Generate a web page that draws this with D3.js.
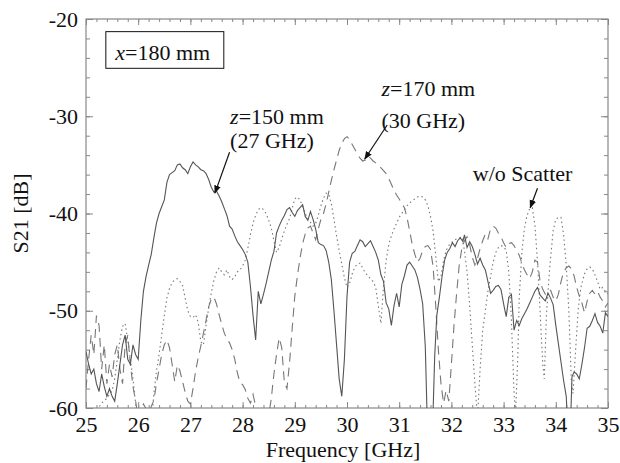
<!DOCTYPE html>
<html lang="en">
<head>
<meta charset="UTF-8">
<title>S21 vs Frequency</title>
<script src="https://d3js.org/d3.v7.min.js"></script>
<style>
  body { margin: 0; background: #fff; }
  .axis path { display: none; }
  .axis line { stroke: #888; }
</style>
</head>
<body>
<div id="chart"></div>
<script>
// x ticks (GHz) and y ticks (dB)
const xTicks = [25, 26, 27, 28, 29, 30, 31, 32, 33, 34, 35];
const yTicks = [-60, -50, -40, -30, -20];

// z=150 mm (27 GHz) - solid
const z150 = [
  [25.00,-54.2],[25.05,-55.5],[25.10,-56.5],[25.15,-56.0],[25.20,-57.5],[25.25,-58.3],[25.30,-56.5],
  [25.35,-57.8],[25.40,-58.8],[25.45,-58.0],[25.50,-58.8],[25.55,-59.3],[25.60,-57.5],[25.65,-55.5],
  [25.70,-53.5],[25.75,-52.5],[25.80,-55.0],[25.85,-55.5],[25.90,-53.5],[25.95,-54.5],[26.00,-55.0],
  [26.05,-51.0],[26.10,-48.0],[26.15,-46.5],[26.20,-45.3],[26.25,-44.2],[26.30,-42.5],[26.35,-41.0],
  [26.40,-40.0],[26.45,-39.3],[26.50,-38.6],[26.55,-36.8],[26.60,-36.0],[26.65,-35.8],[26.70,-35.6],
  [26.75,-35.0],[26.80,-34.9],[26.85,-35.3],[26.90,-35.5],[26.95,-35.9],[27.00,-35.2],[27.05,-34.7],
  [27.10,-35.0],[27.15,-35.2],[27.20,-35.5],[27.25,-35.6],[27.30,-35.9],[27.35,-36.5],[27.40,-37.3],
  [27.45,-37.8],[27.50,-37.7],[27.55,-38.2],[27.60,-38.8],[27.65,-39.5],[27.70,-40.2],[27.75,-41.3],
  [27.80,-41.6],[27.85,-42.3],[27.90,-42.9],[27.95,-43.3],[28.00,-43.7],[28.05,-44.2],[28.10,-45.0],
  [28.15,-47.5],[28.20,-50.5],[28.25,-53.0],[28.30,-48.0],[28.35,-49.3],[28.40,-48.3],[28.45,-47.2],
  [28.50,-46.0],[28.55,-44.8],[28.60,-43.9],[28.65,-42.0],[28.70,-41.3],[28.75,-40.7],[28.80,-40.2],
  [28.85,-39.6],[28.90,-39.4],[28.95,-39.9],[29.00,-40.3],[29.05,-39.7],[29.10,-39.4],[29.15,-39.1],
  [29.20,-40.3],[29.25,-40.7],[29.30,-39.8],[29.35,-40.6],[29.40,-41.6],[29.45,-43.0],[29.50,-43.2],
  [29.55,-43.3],[29.60,-43.8],[29.65,-45.0],[29.70,-46.8],[29.75,-50.0],[29.80,-53.5],[29.85,-57.0],
  [29.90,-58.8],[29.95,-55.0],[30.00,-48.5],[30.05,-45.0],[30.10,-44.1],[30.15,-43.9],[30.20,-43.3],
  [30.25,-42.7],[30.30,-42.9],[30.35,-43.4],[30.40,-43.1],[30.45,-42.8],[30.50,-43.4],[30.55,-44.0],
  [30.60,-44.8],[30.65,-46.3],[30.70,-47.0],[30.75,-49.2],[30.80,-49.8],[30.85,-51.5],[30.90,-49.5],
  [30.95,-48.2],[31.00,-49.6],[31.05,-47.3],[31.10,-46.4],[31.15,-45.3],[31.20,-45.0],[31.25,-45.4],
  [31.30,-45.8],[31.35,-46.6],[31.40,-47.8],[31.45,-49.3],[31.50,-53.7],[31.54,-62.0],[31.64,-62.0],
  [31.68,-54.7],[31.72,-50.5],[31.77,-48.6],[31.82,-46.5],[31.87,-44.8],[31.92,-44.0],[31.97,-43.6],
  [32.02,-43.0],[32.07,-43.4],[32.12,-42.8],[32.17,-42.5],[32.22,-42.9],[32.25,-42.2],[32.30,-43.5],
  [32.35,-42.9],[32.40,-43.4],[32.45,-44.2],[32.50,-45.2],[32.55,-44.6],[32.60,-45.3],[32.65,-45.8],
  [32.70,-47.0],[32.75,-48.2],[32.80,-47.9],[32.85,-47.5],[32.90,-47.4],[32.95,-47.8],[33.00,-49.3],
  [33.05,-50.6],[33.10,-48.6],[33.15,-48.3],[33.20,-52.0],[33.25,-51.0],[33.30,-51.5],[33.35,-50.8],
  [33.40,-50.3],[33.45,-49.8],[33.50,-49.2],[33.55,-48.6],[33.60,-48.0],[33.65,-47.6],[33.70,-48.4],
  [33.75,-48.7],[33.80,-49.0],[33.85,-48.2],[33.90,-48.7],[33.95,-49.4],[34.00,-51.5],[34.05,-53.4],
  [34.10,-55.3],[34.15,-57.2],[34.20,-58.8],[34.23,-62.0],[34.28,-62.0],[34.31,-56.8],[34.35,-56.3],
  [34.40,-56.5],[34.45,-57.0],[34.50,-55.5],[34.55,-53.8],[34.60,-51.8],[34.65,-51.6],[34.70,-51.0],
  [34.75,-50.3],[34.80,-51.2],[34.85,-51.6],[34.90,-52.3],[34.95,-50.2],[35.00,-50.6]
];

// z=170 mm (30 GHz) - dashed
const z170 = [
  [25.00,-58.0],[25.05,-55.0],[25.10,-52.5],[25.15,-54.5],[25.20,-50.5],[25.25,-51.5],[25.30,-56.0],
  [25.35,-53.5],[25.40,-57.5],[25.45,-55.5],[25.50,-56.8],[25.55,-54.5],[25.60,-53.5],[25.65,-56.0],
  [25.70,-57.5],[25.75,-53.5],[25.80,-52.5],[25.85,-55.5],[25.90,-57.8],[25.95,-59.3],[26.00,-61.0],
  [26.10,-59.6],[26.20,-60.5],[26.30,-59.2],[26.35,-57.5],[26.40,-56.0],[26.45,-54.5],[26.50,-53.5],
  [26.55,-53.0],[26.60,-53.8],[26.65,-55.5],[26.70,-57.3],[26.75,-55.6],[26.80,-56.2],[26.85,-57.3],
  [26.90,-58.4],[26.95,-59.3],[27.00,-59.6],[27.05,-58.0],[27.10,-56.2],[27.15,-54.8],[27.20,-53.6],
  [27.25,-52.3],[27.30,-51.0],[27.35,-49.6],[27.40,-48.8],[27.45,-48.6],[27.50,-49.3],[27.55,-50.4],
  [27.60,-51.4],[27.65,-52.3],[27.70,-52.9],[27.75,-53.3],[27.80,-54.0],[27.85,-55.0],[27.90,-56.4],
  [27.95,-57.4],[28.00,-57.6],[28.05,-58.1],[28.10,-59.0],[28.15,-59.5],[28.20,-58.6],[28.25,-59.8],
  [28.30,-60.4],[28.40,-59.8],[28.50,-60.8],[28.55,-59.0],[28.60,-56.5],[28.65,-54.5],[28.70,-52.8],
  [28.75,-53.8],[28.80,-57.4],[28.85,-58.0],[28.90,-55.3],[28.95,-51.8],[29.00,-48.5],[29.05,-46.4],
  [29.10,-44.6],[29.15,-43.1],[29.20,-42.1],[29.25,-41.5],[29.30,-41.3],[29.35,-42.0],[29.40,-42.7],
  [29.45,-41.6],[29.50,-40.6],[29.55,-40.0],[29.60,-39.0],[29.65,-37.8],[29.70,-36.6],[29.75,-35.5],
  [29.80,-34.5],[29.85,-33.5],[29.90,-32.8],[29.95,-32.3],[30.00,-32.1],[30.05,-32.4],[30.10,-32.9],
  [30.15,-33.4],[30.20,-33.9],[30.25,-34.3],[30.30,-34.6],[30.35,-34.5],[30.40,-34.1],[30.45,-34.3],
  [30.50,-34.6],[30.55,-34.8],[30.60,-35.0],[30.65,-35.3],[30.70,-35.6],[30.75,-35.9],[30.80,-36.4],
  [30.85,-37.0],[30.90,-37.6],[30.95,-38.1],[31.00,-38.5],[31.05,-39.0],[31.10,-39.4],[31.15,-40.4],
  [31.20,-41.8],[31.25,-43.2],[31.30,-44.2],[31.35,-45.0],[31.40,-44.6],[31.45,-43.8],[31.50,-43.4],
  [31.55,-43.3],[31.60,-43.7],[31.65,-45.5],[31.70,-49.5],[31.75,-54.0],[31.80,-57.5],[31.85,-59.5],
  [31.90,-58.2],[31.95,-59.3],[32.00,-55.5],[32.05,-51.5],[32.10,-48.2],[32.15,-45.3],[32.20,-43.6],
  [32.25,-42.8],[32.30,-42.4],[32.35,-43.2],[32.40,-44.5],[32.45,-45.3],[32.50,-44.6],[32.55,-43.6],
  [32.60,-42.8],[32.65,-42.1],[32.70,-42.6],[32.75,-41.6],[32.80,-41.3],[32.85,-41.5],[32.90,-42.0],
  [32.95,-42.4],[33.00,-43.0],[33.05,-43.5],[33.10,-43.1],[33.15,-43.0],[33.20,-43.3],[33.25,-43.8],
  [33.30,-44.3],[33.35,-45.1],[33.40,-45.8],[33.45,-46.3],[33.50,-46.7],[33.55,-46.0],[33.60,-44.8],
  [33.65,-45.0],[33.70,-47.0],[33.75,-47.8],[33.80,-48.3],[33.85,-48.0],[33.90,-47.9],[33.95,-48.6],
  [34.00,-49.0],[34.05,-48.3],[34.10,-47.0],[34.15,-46.0],[34.20,-45.6],[34.25,-45.4],[34.30,-45.7],
  [34.35,-46.4],[34.40,-47.6],[34.45,-48.5],[34.50,-49.2],[34.55,-50.2],[34.60,-49.0],[34.65,-48.2],
  [34.70,-47.9],[34.75,-48.3],[34.80,-48.0],[34.85,-48.6],[34.90,-49.0],[34.95,-49.6],[35.00,-49.2]
];

// w/o Scatter - dotted
const noScatter = [
  [25.00,-61.0],[25.10,-60.5],[25.20,-60.3],[25.30,-59.5],[25.40,-59.0],[25.50,-58.2],[25.55,-57.0],
  [25.60,-55.0],[25.65,-53.0],[25.70,-51.6],[25.75,-51.3],[25.80,-53.0],[25.85,-55.0],[25.90,-57.0],
  [25.95,-59.5],[26.00,-62.0],[26.25,-62.0],[26.30,-58.5],[26.35,-56.2],[26.40,-54.5],[26.45,-52.5],
  [26.50,-50.5],[26.55,-48.7],[26.60,-47.7],[26.65,-47.1],[26.70,-46.8],[26.75,-46.7],[26.80,-47.0],
  [26.85,-47.4],[26.90,-48.7],[26.95,-50.0],[27.00,-50.6],[27.05,-50.7],[27.10,-50.4],[27.15,-51.2],
  [27.20,-53.2],[27.25,-53.5],[27.30,-51.5],[27.35,-49.7],[27.40,-48.2],[27.45,-46.9],[27.50,-46.0],
  [27.55,-45.6],[27.60,-46.0],[27.65,-46.3],[27.70,-45.8],[27.75,-46.5],[27.80,-46.8],[27.85,-46.5],
  [27.90,-46.0],[27.95,-45.8],[28.00,-45.4],[28.05,-44.8],[28.10,-43.6],[28.15,-42.2],[28.20,-41.0],
  [28.25,-40.2],[28.30,-39.6],[28.35,-39.4],[28.40,-39.6],[28.45,-40.0],[28.50,-40.7],[28.55,-41.5],
  [28.60,-42.8],[28.65,-44.0],[28.70,-43.5],[28.75,-42.6],[28.80,-41.8],[28.85,-41.1],[28.90,-40.5],
  [28.95,-39.5],[29.00,-38.5],[29.05,-38.3],[29.10,-38.6],[29.15,-39.3],[29.20,-40.0],[29.25,-40.6],
  [29.30,-40.9],[29.35,-41.3],[29.40,-41.0],[29.45,-40.2],[29.50,-39.2],[29.55,-38.4],[29.60,-37.9],
  [29.65,-38.0],[29.70,-39.0],[29.75,-40.6],[29.80,-42.3],[29.85,-43.8],[29.90,-45.2],[29.95,-46.6],
  [30.00,-47.6],[30.05,-47.2],[30.10,-46.2],[30.15,-45.5],[30.20,-45.2],[30.25,-45.1],[30.30,-45.6],
  [30.35,-46.1],[30.40,-46.4],[30.45,-46.7],[30.50,-47.0],[30.55,-47.6],[30.60,-49.5],[30.65,-51.3],
  [30.70,-47.5],[30.75,-44.8],[30.80,-43.2],[30.85,-42.3],[30.90,-41.6],[30.95,-41.0],[31.00,-40.4],
  [31.05,-40.0],[31.10,-39.6],[31.15,-39.2],[31.20,-38.9],[31.25,-38.7],[31.30,-38.5],[31.35,-38.3],
  [31.40,-38.2],[31.45,-38.3],[31.50,-38.6],[31.55,-39.2],[31.60,-40.3],[31.65,-41.8],[31.70,-44.4],
  [31.75,-47.0],[31.80,-46.5],[31.85,-44.8],[31.90,-43.8],[31.95,-43.3],[32.00,-43.0],[32.05,-42.8],
  [32.10,-42.6],[32.15,-42.5],[32.20,-42.4],[32.25,-43.8],[32.30,-46.0],[32.35,-49.5],[32.40,-53.5],
  [32.45,-57.5],[32.50,-61.0],[32.55,-56.0],[32.60,-52.0],[32.65,-50.0],[32.70,-48.0],[32.75,-46.5],
  [32.80,-45.0],[32.85,-44.0],[32.90,-43.5],[32.95,-43.3],[33.00,-43.4],[33.05,-43.8],[33.10,-46.0],
  [33.15,-51.0],[33.20,-58.5],[33.23,-60.5],[33.27,-55.0],[33.30,-48.6],[33.35,-44.0],[33.40,-41.5],
  [33.45,-40.2],[33.50,-39.5],[33.55,-39.4],[33.60,-41.2],[33.65,-45.0],[33.70,-50.2],[33.75,-55.5],
  [33.78,-57.0],[33.82,-50.5],[33.88,-45.8],[33.95,-41.7],[34.00,-40.6],[34.05,-40.4],[34.10,-40.4],
  [34.15,-42.2],[34.20,-45.3],[34.25,-50.0],[34.30,-57.5],[34.33,-58.5],[34.38,-54.0],[34.43,-49.8],
  [34.48,-47.6],[34.55,-46.2],[34.60,-45.7],[34.65,-45.5],[34.70,-45.7],[34.75,-46.3],[34.80,-47.0],
  [34.85,-47.8],[34.90,-47.6],[34.95,-48.0],[35.00,-48.3]
];

const FONT = "Liberation Serif";
const FS = 22;

const margin = {top: 19, right: 12, bottom: 55, left: 86},
      width = 620 - margin.left - margin.right,
      height = 463 - margin.top - margin.bottom;

const svg = d3.select("#chart")
  .append("svg")
  .attr("width", 620)
  .attr("height", 463)
  .append("g")
  .attr("transform", `translate(${margin.left},${margin.top})`);

const x = d3.scaleLinear().domain([25, 35]).range([0, width]);
const y = d3.scaleLinear().domain([-60, -20]).range([height, 0]);

const xMinor = d3.range(25, 35.001, 0.2).map(d => +d.toFixed(1));
const yMinor = d3.range(-60, -19.999, 2);

svg.append("defs").append("clipPath").attr("id", "plot-clip")
  .append("rect").attr("width", width).attr("height", height);

svg.append("defs").append("marker")
  .attr("id", "arrow")
  .attr("viewBox", "0 0 10 10")
  .attr("refX", 9).attr("refY", 5)
  .attr("markerWidth", 7).attr("markerHeight", 7)
  .attr("orient", "auto-start-reverse")
  .append("path")
  .attr("d", "M0,1 L10,5 L0,9 z")
  .attr("fill", "#111");

// ticks pointing inward on all sides
function ticks(axis, values, size, label) {
  return axis.tickValues(values).tickSize(-size).tickSizeOuter(0)
    .tickPadding(8).tickFormat(label ? (d => String(d)) : "");
}

function addAxis(axis, shift) {
  svg.append("g").attr("class", "axis")
    .attr("transform", shift)
    .call(axis)
    .attr("font-family", FONT)
    .attr("font-size", FS);
}

addAxis(ticks(d3.axisBottom(x), xMinor, 3, false), `translate(0,${height})`);
addAxis(ticks(d3.axisBottom(x), xTicks, 6, true), `translate(0,${height})`);
addAxis(ticks(d3.axisTop(x), xMinor, 3, false), null);
addAxis(ticks(d3.axisTop(x), xTicks, 6, false), null);
addAxis(ticks(d3.axisLeft(y), yMinor, 4, false), null);
addAxis(ticks(d3.axisLeft(y), yTicks, 7, true), null);
addAxis(ticks(d3.axisRight(y), yMinor, 4, false), `translate(${width},0)`);
addAxis(ticks(d3.axisRight(y), yTicks, 7, false), `translate(${width},0)`);

svg.selectAll(".axis text").attr("fill", "#111");

// frame
svg.append("rect")
  .attr("width", width).attr("height", height)
  .attr("fill", "none").attr("stroke", "#888").attr("stroke-width", 1.2);

// curves
const line = d3.line().x(d => x(d[0])).y(d => y(d[1]));
const series = [
  {data: noScatter, dash: "1.5,3", color: "#777"},
  {data: z170, dash: "9,6", color: "#777"},
  {data: z150, dash: null, color: "#555"}
];

svg.append("g").attr("clip-path", "url(#plot-clip)")
  .selectAll("path")
  .data(series)
  .join("path")
  .attr("d", d => line(d.data))
  .attr("fill", "none")
  .attr("stroke", d => d.color)
  .attr("stroke-width", 1.1)
  .attr("stroke-dasharray", d => d.dash);

// box label
svg.append("rect")
  .attr("x", x(25.38)).attr("y", y(-21.3))
  .attr("width", x(27.64) - x(25.38)).attr("height", y(-25.07) - y(-21.3))
  .attr("fill", "#fff").attr("stroke", "#111").attr("stroke-width", 1);

function label(xv, yv) {
  return svg.append("text")
    .attr("x", x(xv)).attr("y", y(yv))
    .attr("font-family", FONT)
    .attr("font-size", FS)
    .attr("fill", "#111");
}

const boxText = label(25.56, -24.2);
boxText.append("tspan").attr("font-style", "italic").text("x");
boxText.append("tspan").text("=180 mm");

// annotations
const notes = [
  {v: "z", rest: "=150 mm", sub: "(27 GHz)", f: 27.76, db: -30.8, db2: -33.3},
  {v: "z", rest: "=170 mm", sub: "(30 GHz)", f: 30.66, db: -27.9, db2: -31.2}
];
notes.forEach(n => {
  const t = label(n.f, n.db);
  t.append("tspan").attr("font-style", "italic").text(n.v);
  t.append("tspan").text(n.rest);
  label(n.f, n.db2).text(n.sub);
});
label(32.41, -36.66).text("w/o Scatter");

const arrows = [
  [27.75, -33.7, 27.47, -37.9],
  [30.77, -30.9, 30.34, -34.4],
  [33.65, -37.4, 33.51, -39.4]
];
svg.selectAll(".arrow")
  .data(arrows)
  .join("line")
  .attr("class", "arrow")
  .attr("x1", d => x(d[0])).attr("y1", d => y(d[1]))
  .attr("x2", d => x(d[2])).attr("y2", d => y(d[3]))
  .attr("stroke", "#111").attr("stroke-width", 1.2)
  .attr("marker-end", "url(#arrow)");

// axis titles
svg.append("text")
  .attr("x", 257).attr("y", height + 48.5)
  .attr("text-anchor", "middle")
  .attr("font-family", FONT)
  .attr("font-size", FS)
  .attr("fill", "#111")
  .text("Frequency [GHz]");

svg.append("text")
  .attr("transform", "rotate(-90)")
  .attr("x", -height / 2).attr("y", -58)
  .attr("text-anchor", "middle")
  .attr("font-family", FONT)
  .attr("font-size", FS)
  .attr("fill", "#111")
  .text("S21 [dB]");
</script>
</body>
</html>
